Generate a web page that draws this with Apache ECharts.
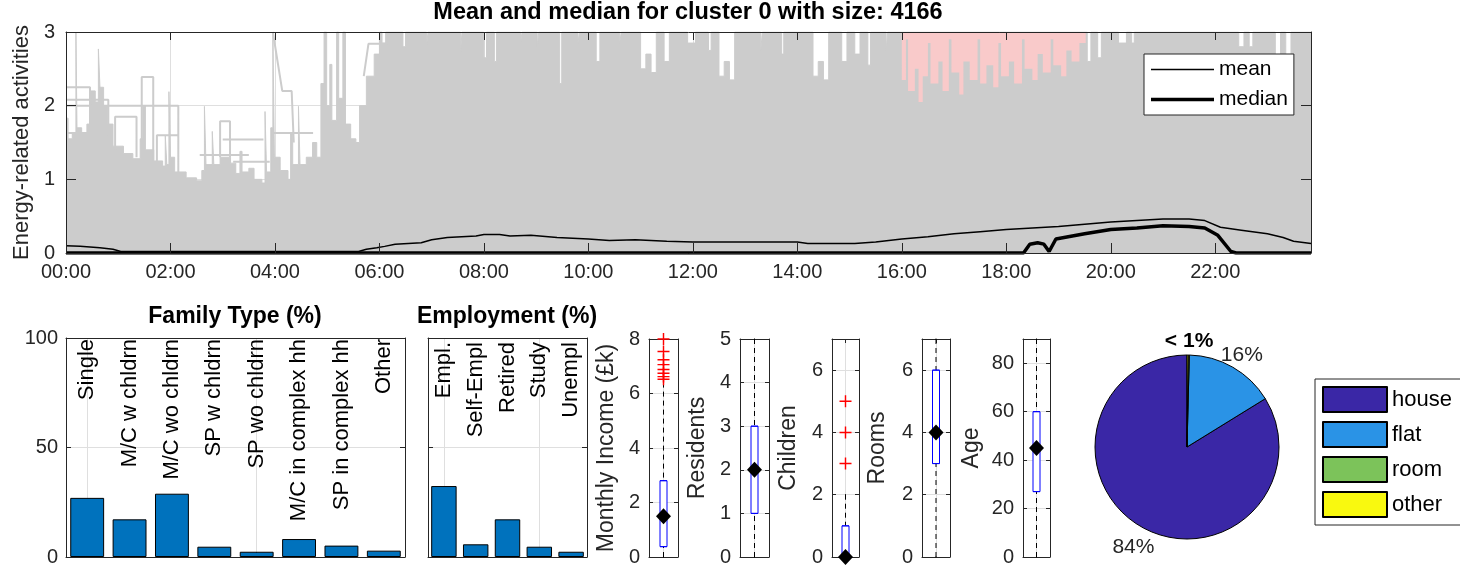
<!DOCTYPE html>
<html lang="en">
<head>
<meta charset="UTF-8">
<title>Cluster 0 profile</title>
<script src="https://cdn.jsdelivr.net/npm/echarts@6.0.0/dist/echarts.min.js"></script>
<style>
    html, body { margin: 0; background: #fff; }
    #chart { width: 1460px; height: 567px; }
</style>
</head>
<body>
<div id="chart"></div>
<script>
// ---------- data ----------
var hourMax = 23 + 50 / 60;   // last 10-minute slot, 23:50

// [hour, activities]
var meanProfile = [[0, 0.10], [0.27, 0.09], [0.65, 0.07], [0.9, 0.05], [1.05, 0.02], [5.6, 0.02], [5.75, 0.05],
    [5.95, 0.07], [6.1, 0.09], [6.3, 0.12], [6.8, 0.14], [7.0, 0.18], [7.3, 0.21], [7.85, 0.23], [8.0, 0.25],
    [8.3, 0.25], [8.5, 0.23], [8.9, 0.24], [9.4, 0.21], [10.0, 0.19], [10.4, 0.17], [10.9, 0.18], [11.5, 0.16],
    [12.0, 0.15], [13.0, 0.15], [14.0, 0.15], [14.2, 0.13], [15.1, 0.13], [15.5, 0.15], [16.0, 0.19], [16.5, 0.22],
    [17.0, 0.26], [17.5, 0.29], [18.0, 0.32], [18.5, 0.34], [19.0, 0.36], [19.5, 0.39], [20.0, 0.42], [20.5, 0.44],
    [21.0, 0.46], [21.5, 0.46], [21.8, 0.44], [22.1, 0.35], [22.5, 0.31], [23.0, 0.26], [23.3, 0.21], [23.5, 0.16],
    [23.833, 0.13]];
var medianProfile = [[0, 0], [18.33, 0], [18.45, 0.12], [18.6, 0.14], [18.72, 0.12], [18.82, 0.02], [18.95, 0.19],
    [19.5, 0.26], [20.0, 0.32], [20.5, 0.34], [21.0, 0.37], [21.5, 0.36], [21.8, 0.34], [22.05, 0.24], [22.3, 0.02],
    [22.4, 0], [23.833, 0]];

// upper edge of the dense mass of 4166 grey profiles, [start hour, level]
var profileEnvelope = [[0.00, 1.83], [0.04, 1.55], [0.12, 1.62], [0.19, 3.0], [0.21, 1.7], [0.3, 1.62], [0.4, 1.75],
    [0.45, 2.2], [0.56, 2.05], [0.62, 2.77], [0.65, 2.25], [0.72, 2.0], [0.8, 1.75], [0.9, 1.45], [1.1, 1.35],
    [1.28, 1.28], [1.42, 1.55], [1.47, 2.0], [1.52, 1.4], [1.68, 1.25], [1.85, 1.18], [1.9, 1.6], [1.93, 1.2],
    [1.97, 2.19], [2.0, 1.3], [2.08, 1.1], [2.3, 1.02], [2.5, 0.98], [2.6, 1.12], [2.65, 1.99], [2.68, 1.2],
    [2.8, 1.65], [2.83, 1.2], [2.95, 1.3], [3.15, 1.22], [3.25, 1.08], [3.33, 1.38], [3.37, 1.1], [3.5, 1.15],
    [3.6, 1.0], [3.75, 0.95], [3.81, 1.92], [3.84, 1.1], [3.92, 1.7], [3.96, 3.0], [3.99, 1.3], [4.1, 1.12],
    [4.25, 1.0], [4.3, 1.62], [4.34, 1.2], [4.45, 1.99], [4.48, 1.2], [4.6, 1.3], [4.72, 1.5], [4.8, 1.3],
    [4.88, 2.3], [4.94, 3.0], [4.99, 2.0], [5.05, 2.56], [5.09, 1.8], [5.18, 3.0], [5.22, 2.1], [5.3, 3.0],
    [5.35, 1.75], [5.45, 1.55], [5.55, 1.5], [5.62, 2.0], [5.75, 2.4], [5.9, 2.7], [6.0, 3.0], [6.05, 2.85],
    [6.12, 3.0], [6.45, 2.8], [6.5, 3.0], [6.9, 2.8], [6.93, 3.0], [7.55, 2.7], [7.58, 3.0], [8.0, 2.65],
    [8.05, 3.0], [8.2, 2.6], [8.24, 3.0], [8.7, 2.85], [8.73, 3.0], [9.02, 2.8], [9.05, 3.0], [9.45, 2.3],
    [9.49, 3.0], [9.8, 2.85], [9.83, 3.0], [10.15, 2.6], [10.22, 3.0], [10.6, 2.85], [10.63, 3.0], [11.0, 2.5],
    [11.1, 2.7], [11.2, 2.45], [11.3, 3.0], [11.45, 2.6], [11.55, 3.0], [11.9, 2.85], [12.05, 3.0], [12.3, 2.75],
    [12.35, 3.0], [12.5, 2.4], [12.6, 2.6], [12.7, 2.35], [12.8, 3.0], [13.3, 2.75], [13.33, 3.0], [13.7, 2.7],
    [13.74, 3.0], [14.3, 2.4], [14.4, 2.6], [14.5, 2.35], [14.6, 3.0], [14.85, 2.6], [14.95, 3.0], [15.1, 2.7],
    [15.2, 3.0], [15.35, 2.55], [15.4, 3.0], [15.7, 2.75], [15.73, 3.0], [19.55, 2.6], [19.62, 3.0], [19.75, 2.65],
    [19.82, 3.0], [20.15, 2.85], [20.3, 3.0], [20.4, 2.85], [20.45, 3.0], [22.45, 2.8], [22.55, 3.0], [22.65, 2.8],
    [22.72, 3.0], [23.15, 2.5], [23.25, 3.0], [23.35, 2.4], [23.45, 3.0], [23.833, 2.9]];

// lower edge of the pink evening block, [start hour, level]
var eveningBand = [[16.0, 2.35], [16.08, 2.9], [16.12, 2.2], [16.25, 2.5], [16.32, 2.05], [16.4, 2.4], [16.5, 2.85],
    [16.55, 2.3], [16.7, 2.6], [16.78, 2.2], [16.9, 2.9], [16.95, 2.45], [17.1, 2.15], [17.18, 2.6], [17.3, 2.35],
    [17.45, 2.9], [17.5, 2.3], [17.62, 2.55], [17.75, 2.25], [17.85, 2.85], [17.9, 2.4], [18.05, 2.6], [18.15, 2.3],
    [18.3, 2.9], [18.35, 2.5], [18.5, 2.35], [18.6, 2.7], [18.7, 2.45], [18.85, 2.9], [18.9, 2.55], [19.05, 2.4],
    [19.15, 2.75], [19.25, 2.6], [19.4, 2.85], [19.52, 3.0]];

// single profiles that stand out above the dense mass
var profileTraces = [
    [[0, 2.25], [0.46, 2.25], [0.46, 1.6]],
    [[0, 2.08], [0.81, 2.08], [0.81, 1.6]],
    [[0, 2.0], [2.15, 2.0], [2.15, 1.1]],
    [[0, 1.63], [0.6, 1.63]],
    [[0.94, 1.4], [0.94, 1.85], [1.35, 1.85], [1.35, 1.3]],
    [[1.45, 1.5], [1.45, 2.39], [1.67, 2.39], [1.67, 1.25]],
    [[1.74, 1.25], [1.74, 1.6], [2.15, 1.6]],
    [[1.16, 1.2], [1.67, 1.2]],
    [[2.95, 1.3], [2.95, 1.79], [3.14, 1.79], [3.14, 1.3]],
    [[3.0, 1.54], [3.78, 1.54]],
    [[3.2, 1.24], [3.9, 1.24]],
    [[2.56, 1.33], [3.5, 1.33]],
    [[3.98, 1.63], [4.73, 1.63]],
    [[3.96, 3.0], [4.14, 2.2], [4.32, 2.2], [4.36, 1.5]],
    [[5.7, 2.4], [5.79, 2.84], [6.14, 2.84], [6.14, 3.0]]
];

var familyTypes = ['Single', 'M/C w chldrn', 'M/C wo chldrn', 'SP w chldrn', 'SP wo chldrn',
    'M/C in complex hh', 'SP in complex hh', 'Other'];
var familyShare = [27.0, 17.2, 28.9, 4.7, 2.4, 8.2, 5.2, 2.9];

var employmentTypes = ['Empl.', 'Self-Empl', 'Retired', 'Study', 'Unempl'];
var employmentShare = [32.4, 5.8, 17.2, 4.7, 2.4];

var boxNames = ['Monthly Income (£k)', 'Residents', 'Children', 'Rooms', 'Age'];
// [lower whisker, q1, median, q3, upper whisker]
var boxStats = [[0, 0.38, 1.5, 2.8, 6.4], [0, 1, 2, 3, 5], [0, 0, 0, 1, 2], [0, 3, 4, 6, 7], [0, 27, 45, 60, 90]];
var boxOutliers = [[6.52, 6.62, 6.74, 6.88, 7.06, 7.24, 7.54, 8.0], [], [3, 4, 5], [], []];
var boxAxisMax = [8, 5, 7, 7, 90];
var boxAxisStep = [2, 1, 2, 2, 20];

var housingTypes = ['house', 'flat', 'room', 'other'];
var housingShare = [83.8, 15.8, 0.2, 0.2];

// ---------- styling / layout ----------
var ink = '#262626', gridGrey = '#dfdfdf', profileGrey = '#cccccc', eveningPink = '#f9caca';
var barBlue = '#0072bd';
var housingColors = ['#3a27a6', '#2a93e6', '#7cc35a', '#f9f90f'];
var fontFamily = '"Liberation Sans", Arial, Helvetica, sans-serif';
var boxLeft = [649, 740, 832, 922, 1023];
var boxWidthPx = [29, 29, 27, 28, 27];
var boxNameGap = [31, 31, 32, 33, 40];
var pieCenter = [1187, 447], pieRadius = 92;

var chart = echarts.init(document.getElementById('chart'));

function hourLabel(v) {
    var h = Math.round(v);
    return (h < 10 ? '0' : '') + h + ':00';
}

function frameAxis(extra) {
    var base = {
        z: 10,
        axisLine: {show: true, onZero: false, lineStyle: {color: ink, width: 1}},
        axisTick: {show: true, inside: true, length: 5, lineStyle: {color: ink}},
        axisLabel: {show: false},
        splitLine: {show: false}
    };
    return echarts.util.merge(base, extra || {}, true);
}

var grids = [], xAxes = [], yAxes = [], series = [];

// ---- top panel: grid 0 only holds the grid lines, grid 1 the data and frame ----
var topRect = {left: 66, top: 32, width: 1245, height: 221};
grids.push(echarts.util.clone(topRect), echarts.util.clone(topRect));

xAxes.push({
    gridIndex: 0, type: 'value', min: 0, max: hourMax, interval: 2,
    axisLine: {show: false}, axisTick: {show: false}, axisLabel: {show: false},
    splitLine: {show: true, lineStyle: {color: gridGrey}}
});
yAxes.push({
    gridIndex: 0, type: 'value', min: 0, max: 3, interval: 1,
    axisLine: {show: false}, axisTick: {show: false}, axisLabel: {show: false},
    splitLine: {show: true, lineStyle: {color: gridGrey}}
});
xAxes.push(frameAxis({
    gridIndex: 1, type: 'value', position: 'bottom', min: 0, max: hourMax, interval: 2,
    axisTick: {length: 10},
    axisLabel: {show: true, formatter: hourLabel, showMaxLabel: false, margin: 9, fontSize: 20, color: ink}
}));
xAxes.push(frameAxis({
    gridIndex: 1, type: 'value', position: 'top', min: 0, max: hourMax, interval: 2, axisTick: {length: 8}
}));
yAxes.push(frameAxis({
    gridIndex: 1, type: 'value', position: 'left', min: 0, max: 3, interval: 1,
    axisTick: {length: 10},
    axisLabel: {show: true, margin: 11, fontSize: 20, color: ink},
    name: 'Energy-related activities', nameLocation: 'middle', nameGap: 32,
    nameTextStyle: {fontSize: 22, color: ink}
}));
yAxes.push(frameAxis({
    gridIndex: 1, type: 'value', position: 'right', min: 0, max: 3, interval: 1, axisTick: {length: 10}
}));

var traceData = [];
profileTraces.forEach(function (trace) {
    trace.forEach(function (p) { traceData.push(p); });
    traceData.push([trace[trace.length - 1][0], '-']);
});

series.push({
    name: 'profiles', type: 'line', xAxisIndex: 1, yAxisIndex: 1, step: 'end', symbol: 'none', silent: true,
    data: profileEnvelope,
    lineStyle: {color: profileGrey, width: 1},
    areaStyle: {color: profileGrey, opacity: 1}
});
series.push({
    name: 'evening', type: 'line', xAxisIndex: 1, yAxisIndex: 1, step: 'end', symbol: 'none', silent: true,
    data: eveningBand,
    lineStyle: {width: 0},
    areaStyle: {color: eveningPink, opacity: 1, origin: 'end'}
});
series.push({
    name: 'traces', type: 'line', xAxisIndex: 1, yAxisIndex: 1, symbol: 'none', silent: true,
    connectNulls: false, data: traceData,
    lineStyle: {color: profileGrey, width: 2}
});
series.push({
    name: 'mean', type: 'line', xAxisIndex: 1, yAxisIndex: 1, symbol: 'none', color: '#000',
    data: meanProfile, lineStyle: {color: '#000', width: 1.5}
});
series.push({
    name: 'median', type: 'line', xAxisIndex: 1, yAxisIndex: 1, symbol: 'none', color: '#000',
    data: medianProfile, lineStyle: {color: '#000', width: 3.5}
});

// ---- bar panels ----
function barPanel(rect, cats, values, showY, labelMargin) {
    var g = grids.length;
    grids.push(rect);
    xAxes.push(frameAxis({
        gridIndex: g, type: 'category', data: cats, position: 'bottom', z: 0,
        axisTick: {alignWithLabel: true},
        splitLine: {show: true, alignWithLabel: true, lineStyle: {color: gridGrey}}
    }));
    xAxes.push(frameAxis({
        gridIndex: g, type: 'category', data: cats, position: 'top', z: 0,
        axisTick: {show: false},
        axisLabel: {show: true, inside: true, rotate: -90, interval: 0, margin: labelMargin, fontSize: 22, color: '#000'}
    }));
    yAxes.push(frameAxis({
        gridIndex: g, type: 'value', position: 'left', min: 0, max: 100, interval: 50, z: 0,
        axisLabel: {show: showY, margin: 8, fontSize: 20, color: ink},
        splitLine: {show: true, lineStyle: {color: gridGrey}}
    }));
    yAxes.push(frameAxis({
        gridIndex: g, type: 'value', position: 'right', min: 0, max: 100, interval: 50, z: 0
    }));
    series.push({
        type: 'bar', xAxisIndex: xAxes.length - 2, yAxisIndex: yAxes.length - 2, data: values,
        barCategoryGap: '20%', silent: true,
        itemStyle: {color: barBlue, borderColor: '#000', borderWidth: 1}
    });
}
barPanel({left: 66, top: 338, width: 339, height: 219}, familyTypes, familyShare, true, 1);
barPanel({left: 428, top: 338, width: 159, height: 219}, employmentTypes, employmentShare, false, 4);

// ---- box plots ----
var plusPath = 'path://M0,4.4H10V5.6H0Z M4.4,0H5.6V10H4.4Z';
boxStats.forEach(function (s, i) {
    var g = grids.length;
    grids.push({left: boxLeft[i], top: 339, width: boxWidthPx[i], height: 222});
    var xi = xAxes.length, yi = yAxes.length;
    xAxes.push(frameAxis({gridIndex: g, type: 'category', data: [''], position: 'bottom', z: 0, axisTick: {show: false}}));
    xAxes.push(frameAxis({
        gridIndex: g, type: 'category', data: [''], position: 'top', z: 0,
        axisTick: {alignWithLabel: true, length: 4},
        splitLine: {show: true, alignWithLabel: true, lineStyle: {color: gridGrey}}
    }));
    yAxes.push(frameAxis({
        gridIndex: g, type: 'value', position: 'left', min: 0, max: boxAxisMax[i], interval: boxAxisStep[i], z: 0,
        axisTick: {length: 4},
        axisLabel: {show: true, margin: 9, fontSize: 20, color: ink, showMaxLabel: boxAxisMax[i] % boxAxisStep[i] === 0},
        splitLine: {show: true, lineStyle: {color: gridGrey}},
        name: boxNames[i], nameLocation: 'middle', nameGap: boxNameGap[i],
        nameTextStyle: {fontSize: 23, color: ink}
    }));
    yAxes.push(frameAxis({
        gridIndex: g, type: 'value', position: 'right', min: 0, max: boxAxisMax[i], interval: boxAxisStep[i], z: 0,
        axisTick: {length: 4}
    }));
    // dashed whiskers (bottom category axis)
    series.push({
        type: 'boxplot', xAxisIndex: xi, yAxisIndex: yi, data: [s], boxWidth: [1, 1], silent: true,
        itemStyle: {color: '#fff', borderColor: '#000', borderWidth: 1, borderType: [5, 4]}
    });
    // interquartile box (top category axis, so it sits on the same centre)
    series.push({
        type: 'boxplot', xAxisIndex: xi + 1, yAxisIndex: yi, data: [[s[1], s[1], s[2], s[3], s[3]]],
        boxWidth: [7, 7], silent: true,
        itemStyle: {color: '#fff', borderColor: '#0000ff', borderWidth: 1}
    });
    series.push({
        type: 'scatter', xAxisIndex: xi + 1, yAxisIndex: yi, data: [[0, s[2]]], symbol: 'diamond',
        symbolSize: [15, 16], clip: false, silent: true, itemStyle: {color: '#000', opacity: 1}
    });
    series.push({
        type: 'scatter', xAxisIndex: xi + 1, yAxisIndex: yi, symbol: plusPath, symbolSize: 12, silent: true,
        data: boxOutliers[i].map(function (v) { return [0, v]; }),
        itemStyle: {color: '#ff0000', opacity: 1}
    });
});

// ---- pie ----
var pieData = housingTypes.map(function (name, i) {
    var item = {name: name, value: housingShare[i], itemStyle: {color: housingColors[i]}};
    if (housingShare[i] < 1) {
        item.label = i === 2 ? {show: true, fontWeight: 'bold', color: '#000'} : {show: false};
    }
    return item;
});
series.push({
    type: 'pie', center: pieCenter, radius: pieRadius, startAngle: 90, clockwise: false,
    avoidLabelOverlap: false, minShowLabelAngle: 0, silent: true, data: pieData,
    itemStyle: {borderColor: '#000', borderWidth: 1},
    label: {
        show: true, position: 'outside', fontSize: 21, color: ink,
        formatter: function (p) { return p.percent < 1 ? '< 1%' : Math.round(p.percent) + '%'; }
    },
    labelLine: {show: false, length: 18, length2: 0},
    // centre each label on the end of its (hidden) label line, as MATLAB does
    labelLayout: function (params) {
        var pts = params.labelLinePoints;
        if (!pts || !pts[1]) { return {}; }
        return {x: pts[1][0], y: pts[1][1] + 4, align: 'center', verticalAlign: 'middle'};
    }
});

var option = {
    animation: false,
    backgroundColor: '#fff',
    textStyle: {fontFamily: fontFamily},
    title: [
        {text: 'Mean and median for cluster 0 with size: 4166', left: 688, top: 1, textAlign: 'center', padding: 0,
            textStyle: {fontSize: 23.5, fontWeight: 'bold', color: '#000'}},
        {text: 'Family Type (%)', left: 235, top: 305, textAlign: 'center', padding: 0,
            textStyle: {fontSize: 23, fontWeight: 'bold', color: '#000'}},
        {text: 'Employment (%)', left: 507, top: 305, textAlign: 'center', padding: 0,
            textStyle: {fontSize: 23, fontWeight: 'bold', color: '#000'}}
    ],
    legend: [
        {
            data: [{name: 'mean', icon: 'path://M0,0H63V1.5H0Z'}, {name: 'median', icon: 'path://M0,0H63V3.5H0Z'}],
            orient: 'vertical', left: 1144, top: 54, itemWidth: 63, itemHeight: 18, itemGap: 9,
            padding: [5, 6, 5, 7], borderColor: ink, borderWidth: 1, backgroundColor: '#fff',
            selectedMode: false, textStyle: {fontSize: 21, color: '#000'}
        },
        {
            data: housingTypes, orient: 'vertical', left: 1315, top: 379, itemWidth: 64, itemHeight: 25, itemGap: 8,
            padding: [7, 60, 7, 7], borderColor: ink, borderWidth: 1, backgroundColor: '#fff', icon: 'rect',
            selectedMode: false, textStyle: {fontSize: 22, color: '#000'}
        }
    ],
    grid: grids,
    xAxis: xAxes,
    yAxis: yAxes,
    series: series
};
chart.setOption(option);
</script>
</body>
</html>
